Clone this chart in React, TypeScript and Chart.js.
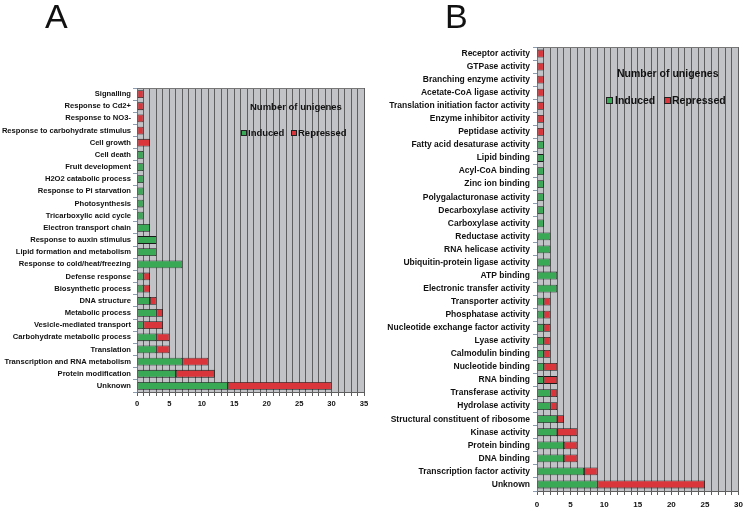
import React, { useEffect, useRef } from "react";
import { Chart, registerables } from "chart.js";

Chart.register(...registerables);

const categoriesA = [
  "Signalling",
  "Response to Cd2+",
  "Response to NO3-",
  "Response to carbohydrate stimulus",
  "Cell growth",
  "Cell death",
  "Fruit development",
  "H2O2 catabolic process",
  "Response to Pi starvation",
  "Photosynthesis",
  "Tricarboxylic acid cycle",
  "Electron transport chain",
  "Response to auxin stimulus",
  "Lipid formation and metabolism",
  "Response to cold/heat/freezing",
  "Defense response",
  "Biosynthetic process",
  "DNA structure",
  "Metabolic process",
  "Vesicle-mediated transport",
  "Carbohydrate metabolic process",
  "Translation",
  "Transcription and RNA metabolism",
  "Protein modification",
  "Unknown",
];
const inducedA = [0, 0, 0, 0, 0, 1, 1, 1, 1, 1, 1, 2, 3, 3, 7, 1, 1, 2, 3, 1, 3, 3, 7, 6, 14];
const repressedA = [1, 1, 1, 1, 2, 0, 0, 0, 0, 0, 0, 0, 0, 0, 0, 1, 1, 1, 1, 3, 2, 2, 4, 6, 16];

const categoriesB = [
  "Receptor activity",
  "GTPase activity",
  "Branching enzyme activity",
  "Acetate-CoA ligase activity",
  "Translation initiation factor activity",
  "Enzyme inhibitor activity",
  "Peptidase activity",
  "Fatty acid desaturase activity",
  "Lipid binding",
  "Acyl-CoA binding",
  "Zinc ion binding",
  "Polygalacturonase activity",
  "Decarboxylase activity",
  "Carboxylase activity",
  "Reductase activity",
  "RNA helicase activity",
  "Ubiquitin-protein ligase activity",
  "ATP binding",
  "Electronic transfer activity",
  "Transporter activity",
  "Phosphatase activity",
  "Nucleotide exchange factor activity",
  "Lyase activity",
  "Calmodulin binding",
  "Nucleotide binding",
  "RNA binding",
  "Transferase activity",
  "Hydrolase activity",
  "Structural constituent of ribosome",
  "Kinase activity",
  "Protein binding",
  "DNA binding",
  "Transcription factor activity",
  "Unknown",
];
const inducedB = [0, 0, 0, 0, 0, 0, 0, 1, 1, 1, 1, 1, 1, 1, 2, 2, 2, 3, 3, 1, 1, 1, 1, 1, 1, 1, 2, 2, 3, 3, 4, 4, 7, 9];
const repressedB = [1, 1, 1, 1, 1, 1, 1, 0, 0, 0, 0, 0, 0, 0, 0, 0, 0, 0, 0, 1, 1, 1, 1, 1, 2, 2, 1, 1, 1, 3, 2, 2, 2, 16];

const maxA = 35;
const maxB = 30;

const GREEN = "#3aa956";
const RED = "#d9353b";
const FONT = "'Liberation Sans', Arial, sans-serif";

type PanelCfg = {
  labels: string[];
  induced: number[];
  repressed: number[];
  xMax: number;
  yWidth: number;
  xHeight: number;
  padTop: number;
  padRight: number;
  labelSize: number;
  xLabelSize: number;
  xLabelPad: number;
  yLabelPad: number;
  barPct: number;
};

const bgPlugin = {
  id: "plotBg",
  beforeDraw(chart: any) {
    const { ctx, chartArea } = chart;
    if (!chartArea) return;
    ctx.save();
    ctx.fillStyle = "#c2c3c7";
    ctx.fillRect(chartArea.left, chartArea.top, chartArea.right - chartArea.left, chartArea.bottom - chartArea.top);
    ctx.restore();
  },
  afterDraw(chart: any) {
    const { ctx, chartArea } = chart;
    ctx.save();
    ctx.strokeStyle = "#777";
    ctx.lineWidth = 1;
    ctx.beginPath();
    ctx.moveTo(chartArea.left, chartArea.top + 0.5);
    ctx.lineTo(chartArea.right, chartArea.top + 0.5);
    ctx.stroke();
    ctx.restore();
  },
};

function makeConfig(p: PanelCfg): any {
  const toNull = (a: number[]) => a.map((v) => (v === 0 ? null : v));
  return {
    type: "bar",
    data: {
      labels: p.labels,
      datasets: [
        {
          label: "Induced",
          data: toNull(p.induced),
          backgroundColor: GREEN,
          borderColor: "#1a1a1a",
          borderWidth: 0.8,
          borderSkipped: false,
          barPercentage: p.barPct,
          categoryPercentage: 1,
        },
        {
          label: "Repressed",
          data: toNull(p.repressed),
          backgroundColor: RED,
          borderColor: "#1a1a1a",
          borderWidth: 0.8,
          borderSkipped: false,
          barPercentage: p.barPct,
          categoryPercentage: 1,
        },
      ],
    },
    options: {
      indexAxis: "y",
      responsive: false,
      animation: false,
      layout: { padding: { top: p.padTop, right: p.padRight, left: 0, bottom: 0 } },
      plugins: { legend: { display: false }, tooltip: { enabled: false }, title: { display: false } },
      scales: {
        x: {
          stacked: true,
          min: 0,
          max: p.xMax,
          afterFit(scale: any) {
            scale.height = p.xHeight;
          },
          ticks: {
            stepSize: 1,
            autoSkip: false,
            maxRotation: 0,
            padding: p.xLabelPad,
            color: "#111",
            font: { family: FONT, size: p.xLabelSize, weight: "bold" },
            callback: (v: any) => (Number(v) % 5 === 0 ? String(v) : ""),
          },
          grid: { color: "#5e5e5e", lineWidth: 1, tickLength: 4, drawTicks: true },
          border: { display: true, color: "#5e5e5e" },
        },
        y: {
          stacked: true,
          afterFit(scale: any) {
            scale.width = p.yWidth;
          },
          ticks: {
            autoSkip: false,
            padding: p.yLabelPad,
            color: "#111",
            font: { family: FONT, size: p.labelSize, weight: "bold" },
          },
          grid: { drawOnChartArea: false, drawTicks: true, tickLength: 4, color: "#8b9cb0", offset: true },
          border: { display: true, color: "#777" },
        },
      },
    },
    plugins: [bgPlugin],
  };
}

function Panel(props: { cfg: PanelCfg; left: number; top: number; width: number; height: number }) {
  const ref = useRef<HTMLCanvasElement | null>(null);
  useEffect(() => {
    if (!ref.current) return;
    const chart = new Chart(ref.current, makeConfig(props.cfg));
    return () => chart.destroy();
  }, []);
  return (
    <canvas
      ref={ref}
      width={props.width}
      height={props.height}
      style={{ position: "absolute", left: props.left, top: props.top, width: props.width, height: props.height }}
    />
  );
}

function Text(props: { x: number; y: number; size: number; text: string; bold?: boolean }) {
  return (
    <div
      style={{
        position: "absolute",
        left: props.x,
        top: props.y,
        fontFamily: FONT,
        fontSize: props.size,
        fontWeight: props.bold ? "bold" : "normal",
        lineHeight: 1,
        whiteSpace: "nowrap",
        color: "#111",
      }}
    >
      {props.text}
    </div>
  );
}

function Box(props: { x: number; y: number; s: number; color: string }) {
  return (
    <div
      style={{
        position: "absolute",
        left: props.x,
        top: props.y,
        width: props.s,
        height: props.s,
        background: props.color,
        border: "1px solid #222",
        boxSizing: "border-box",
      }}
    />
  );
}

export default function App() {
  useEffect(() => {
    document.body.style.margin = "0";
  }, []);

  const cfgA: PanelCfg = {
    labels: categoriesA,
    induced: inducedA,
    repressed: repressedA,
    xMax: maxA,
    yWidth: 137,
    xHeight: 22,
    padTop: 88,
    padRight: 8,
    labelSize: 7.6,
    xLabelSize: 7.6,
    xLabelPad: 3,
    yLabelPad: 2,
    barPct: 0.64,
  };
  const cfgB: PanelCfg = {
    labels: categoriesB,
    induced: inducedB,
    repressed: repressedB,
    xMax: maxB,
    yWidth: 161,
    xHeight: 19,
    padTop: 47,
    padRight: 8,
    labelSize: 8.5,
    xLabelSize: 8,
    xLabelPad: 5,
    yLabelPad: 3,
    barPct: 0.6,
  };

  return (
    <div style={{ position: "relative", width: 748, height: 510, background: "#fff", overflow: "hidden" }}>
      <Panel cfg={cfgA} left={0} top={0} width={372} height={414} />
      <Panel cfg={cfgB} left={376} top={0} width={372} height={510} />
      <Text x={45} y={-1.5} size={34} text="A" />
      <Text x={445} y={-1.5} size={34} text="B" />

      <Text x={250} y={107 - 0.488 * 9.5} size={9.5} bold text="Number of unigenes" />
      <Box x={241} y={130} s={6} color={GREEN} />
      <Text x={248} y={133 - 0.488 * 9.5} size={9.5} bold text="Induced" />
      <Box x={291} y={130} s={6} color={RED} />
      <Text x={298} y={133 - 0.488 * 9.5} size={9.5} bold text="Repressed" />

      <Text x={617} y={73 - 0.488 * 10.5} size={10.5} bold text="Number of unigenes" />
      <Box x={606} y={96.5} s={7} color={GREEN} />
      <Text x={615} y={100 - 0.488 * 10.5} size={10.5} bold text="Induced" />
      <Box x={664} y={96.5} s={7} color={RED} />
      <Text x={672} y={100 - 0.488 * 10.5} size={10.5} bold text="Repressed" />
    </div>
  );
}
